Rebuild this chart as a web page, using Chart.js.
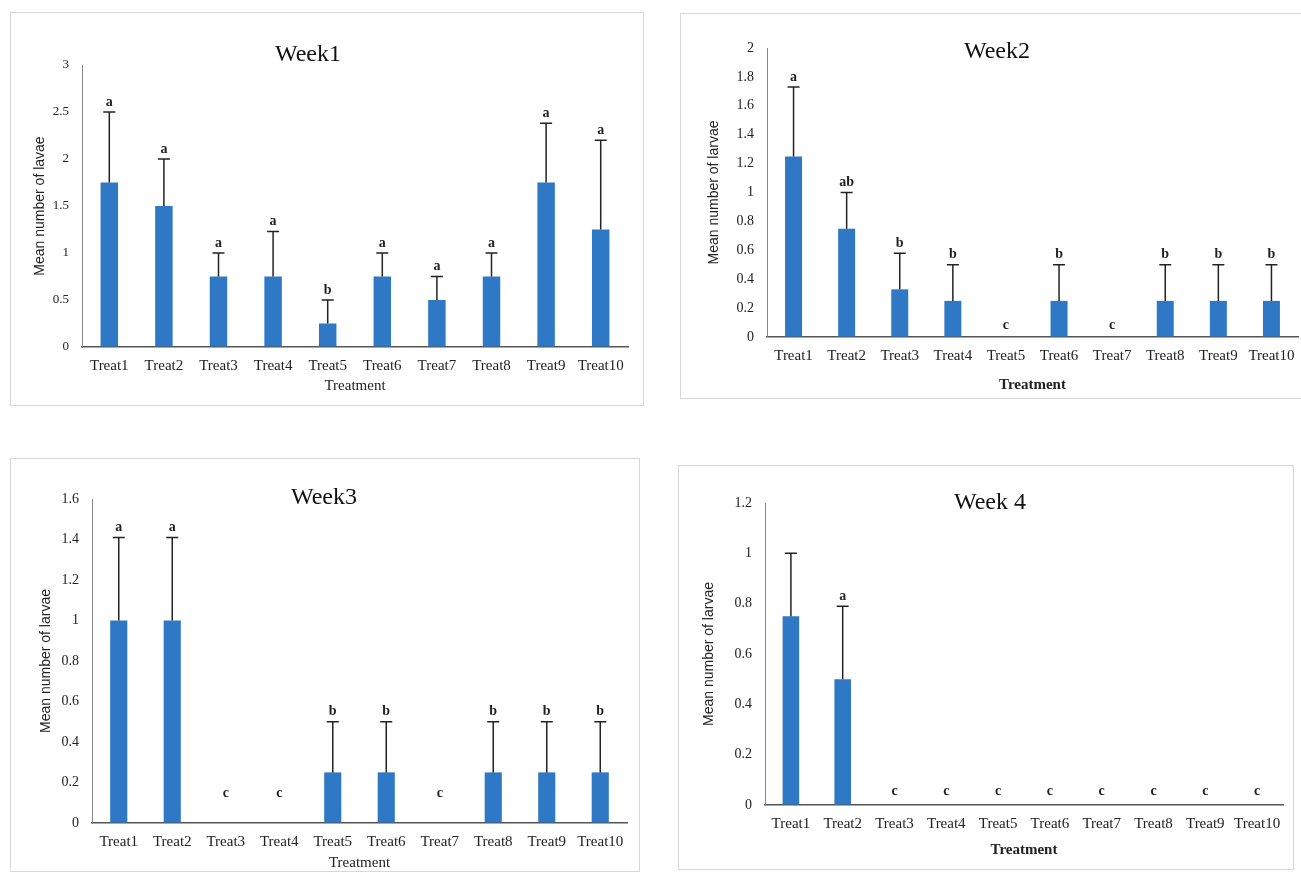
<!DOCTYPE html>
<html>
<head>
<meta charset="utf-8">
<script src="https://cdn.jsdelivr.net/npm/chart.js"></script>
<style>
  body { margin: 0; background: #fff; width: 1301px; height: 873px; overflow: hidden; position: relative; }
  .panel { position: absolute; outline: 1.5px solid #d8d8d8; outline-offset: -1px; background: #fff; }
  .panel canvas { position: absolute; left: 0; top: 0; }
</style>
</head>
<body>
<div class="panel" id="p1" style="left:10px;top:12px;width:634px;height:394px"><canvas id="week1" width="634" height="394"></canvas></div>
<div class="panel" id="p2" style="left:680px;top:13px;width:625px;height:386px"><canvas id="week2" width="625" height="386"></canvas></div>
<div class="panel" id="p3" style="left:10px;top:458px;width:630px;height:414px"><canvas id="week3" width="630" height="414"></canvas></div>
<div class="panel" id="p4" style="left:678px;top:465px;width:616px;height:405px"><canvas id="week4" width="616" height="405"></canvas></div>
<script>
const treatments = ["Treat1", "Treat2", "Treat3", "Treat4", "Treat5", "Treat6", "Treat7", "Treat8", "Treat9", "Treat10"];

// mean number of larvae per treatment, and the top of each error bar
const week1Means = [1.75, 1.5, 0.75, 0.75, 0.25, 0.75, 0.5, 0.75, 1.75, 1.25];
const week1Upper = [2.5, 2.0, 1.0, 1.23, 0.5, 1.0, 0.75, 1.0, 2.38, 2.2];
const week1Letters = ["a", "a", "a", "a", "b", "a", "a", "a", "a", "a"];
const week1Ticks = [0, 0.5, 1, 1.5, 2, 2.5, 3];

const week2Means = [1.25, 0.75, 0.33, 0.25, 0, 0.25, 0, 0.25, 0.25, 0.25];
const week2Upper = [1.73, 1.0, 0.58, 0.5, 0, 0.5, 0, 0.5, 0.5, 0.5];
const week2Letters = ["a", "ab", "b", "b", "c", "b", "c", "b", "b", "b"];
const week2Ticks = [0, 0.2, 0.4, 0.6, 0.8, 1, 1.2, 1.4, 1.6, 1.8, 2];

const week3Means = [1, 1, 0, 0, 0.25, 0.25, 0, 0.25, 0.25, 0.25];
const week3Upper = [1.41, 1.41, 0, 0, 0.5, 0.5, 0, 0.5, 0.5, 0.5];
const week3Letters = ["a", "a", "c", "c", "b", "b", "c", "b", "b", "b"];
const week3Ticks = [0, 0.2, 0.4, 0.6, 0.8, 1, 1.2, 1.4, 1.6];

const week4Means = [0.75, 0.5, 0, 0, 0, 0, 0, 0, 0, 0];
const week4Upper = [1.0, 0.79, 0, 0, 0, 0, 0, 0, 0, 0];
const week4Letters = ["", "a", "c", "c", "c", "c", "c", "c", "c", "c"];
const week4Ticks = [0, 0.2, 0.4, 0.6, 0.8, 1, 1.2];

const BAR_COLOR = "#2e78c6";
const SERIF = '"Liberation Serif", "Times New Roman", serif';
const SANS = '"Liberation Sans", Arial, sans-serif';

// upper-only error bars with a cap, plus the significance letters
const errorBars = {
  id: "errorBars",
  afterDatasetsDraw(chart, args, opts) {
    const { ctx } = chart;
    const y = chart.scales.y;
    const meta = chart.getDatasetMeta(0);
    ctx.save();
    ctx.strokeStyle = "#222";
    ctx.lineWidth = 1.5;
    ctx.fillStyle = "#222";
    ctx.font = "bold 14px " + SERIF;
    ctx.textAlign = "center";
    ctx.textBaseline = "middle";
    meta.data.forEach((bar, i) => {
      const top = opts.upper[i];
      const yTop = y.getPixelForValue(top);
      if (top > opts.means[i]) {
        ctx.beginPath();
        ctx.moveTo(bar.x, bar.y);
        ctx.lineTo(bar.x, yTop);
        ctx.moveTo(bar.x - 6, yTop);
        ctx.lineTo(bar.x + 6, yTop);
        ctx.stroke();
      }
      const ly = top > 0 ? yTop - opts.capGap : y.getPixelForValue(0) - opts.zeroGap;
      if (opts.letters[i]) ctx.fillText(opts.letters[i], bar.x, ly);
    });
    ctx.restore();
  },
};

const panelTitle = {
  id: "panelTitle",
  afterDraw(chart, args, opts) {
    const { ctx } = chart;
    ctx.save();
    ctx.fillStyle = "#111";
    ctx.font = "24px " + SERIF;
    ctx.textAlign = "center";
    ctx.textBaseline = "middle";
    ctx.fillText(opts.text, opts.x, opts.y);
    ctx.restore();
  },
};

function makeChart(canvasId, cfg) {
  const canvas = document.getElementById(canvasId);
  const w = canvas.width;
  const h = canvas.height;
  return new Chart(canvas, {
    type: "bar",
    data: {
      labels: treatments,
      datasets: [
        {
          data: cfg.means,
          backgroundColor: BAR_COLOR,
          borderWidth: 0,
          barPercentage: 0.32,
          categoryPercentage: 1,
        },
      ],
    },
    options: {
      responsive: false,
      animation: false,
      events: [],
      layout: { padding: { top: cfg.area.t, right: w - cfg.area.r, bottom: 0, left: 0 } },
      plugins: {
        legend: { display: false },
        tooltip: { enabled: false },
        errorBars: { means: cfg.means, upper: cfg.upper, letters: cfg.letters, capGap: 10, zeroGap: cfg.zeroGap },
        panelTitle: { text: cfg.title, x: cfg.titleX, y: cfg.titleY },
      },
      scales: {
        x: {
          grid: { drawOnChartArea: false, drawTicks: false },
          border: { color: "#555", width: 1.5 },
          ticks: { color: "#222", padding: 10, maxRotation: 0, autoSkip: false, font: { family: SERIF, size: 15 } },
          title: {
            display: true,
            text: "Treatment",
            color: "#222",
            padding: { top: 0, bottom: h - cfg.xTitleY - 9 },
            font: { family: SERIF, size: 15, weight: cfg.xTitleBold ? "bold" : "normal" },
          },
          afterFit: (s) => { s.height = h - cfg.area.b; },
        },
        y: {
          min: 0,
          max: cfg.ticks[cfg.ticks.length - 1],
          grid: { drawOnChartArea: false, drawTicks: false },
          border: { color: "#888", width: 1 },
          afterBuildTicks: (s) => { s.ticks = cfg.ticks.map((v) => ({ value: v })); },
          ticks: { color: "#222", padding: 13, font: { family: SERIF, size: cfg.tickSize }, callback: (v) => String(v) },
          title: {
            display: true,
            text: cfg.yTitle,
            color: "#222",
            padding: { top: cfg.yTitleX - 8, bottom: 0 },
            font: { family: SANS, size: 14 },
          },
          afterFit: (s) => { s.width = cfg.area.l; },
        },
      },
    },
    plugins: [errorBars, panelTitle],
  });
}

makeChart("week1", {
  means: week1Means, upper: week1Upper, letters: week1Letters, ticks: week1Ticks,
  title: "Week1", titleX: 298, titleY: 43, yTitle: "Mean number of lavae",
  area: { l: 72, t: 53, r: 618, b: 335 }, yTitleX: 30, xTitleY: 374, tickSize: 13, zeroGap: 12,
});
makeChart("week2", {
  means: week2Means, upper: week2Upper, letters: week2Letters, ticks: week2Ticks,
  title: "Week2", titleX: 317, titleY: 39, yTitle: "Mean number of larvae",
  area: { l: 87, t: 35, r: 618, b: 324 }, yTitleX: 34, xTitleY: 372, tickSize: 14, zeroGap: 12, xTitleBold: true,
});
makeChart("week3", {
  means: week3Means, upper: week3Upper, letters: week3Letters, ticks: week3Ticks,
  title: "Week3", titleX: 314, titleY: 40, yTitle: "Mean number of larvae",
  area: { l: 82, t: 41, r: 617, b: 365 }, yTitleX: 36, xTitleY: 405, tickSize: 14, zeroGap: 30,
});
makeChart("week4", {
  means: week4Means, upper: week4Upper, letters: week4Letters, ticks: week4Ticks,
  title: "Week 4", titleX: 312, titleY: 38, yTitle: "Mean number of larvae",
  area: { l: 87, t: 38, r: 605, b: 340 }, yTitleX: 31, xTitleY: 385, tickSize: 14, zeroGap: 14, xTitleBold: true,
});
</script>
</body>
</html>
